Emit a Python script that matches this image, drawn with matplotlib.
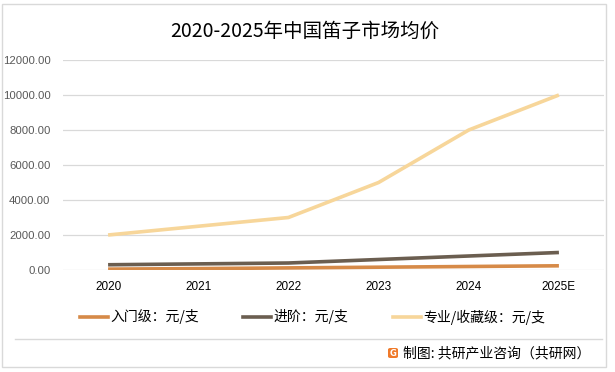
import matplotlib
matplotlib.use("Agg")
import matplotlib.pyplot as plt
from matplotlib.lines import Line2D
from matplotlib.patches import Rectangle, FancyBboxPatch

plt.rcParams['font.family'] = ['Noto Sans CJK SC', 'DejaVu Sans']

years = ["2020", "2021", "2022", "2023", "2024", "2025E"]
entry = [50, 80, 120, 160, 200, 240]
advanced = [300, 350, 400, 600, 800, 1000]
professional = [2000, 2500, 3000, 5000, 8000, 10000]
series_names = ["入门级：元/支", "进阶：元/支", "专业/收藏级：元/支"]
colors = ["#D68A48", "#6B5E50", "#F7D69A"]
yticks = [0, 2000, 4000, 6000, 8000, 10000, 12000]

W, H = 615, 372
fig = plt.figure(figsize=(W / 100, H / 100), dpi=100)

# outer border
fig.add_artist(Rectangle((2 / W, 1 - 367 / H), 604 / W, 363 / H, transform=fig.transFigure,
                         fill=False, edgecolor="#D9D9D9", linewidth=1.0))
# separator line
fig.add_artist(Line2D([15 / W, 602 / W], [1 - 339 / H, 1 - 339 / H], transform=fig.transFigure,
                      color="#D9D9D9", linewidth=1.0))

ax = fig.add_axes([63 / W, 1 - 270 / H, (604 - 63) / W, (270 - 60) / H])
x = list(range(len(years)))
for vals, c in zip([entry, advanced, professional], colors):
    ax.plot(x, vals, color=c, linewidth=2.6, solid_capstyle="butt")

ax.set_xlim(-0.5, len(years) - 0.5)
ax.set_ylim(0, 12000)
ax.set_yticks(yticks)
ax.set_yticklabels([f"{v:.2f}" for v in yticks], fontsize=8.2, color="#595959",
                   family=['Liberation Sans'])
ax.set_xticks(x)
ax.set_xticklabels(years, fontsize=8.5, color="#000000", family=['Liberation Sans'])
ax.tick_params(axis='both', length=0)
ax.tick_params(axis='x', pad=8)
ax.tick_params(axis='y', pad=9)
ax.grid(axis='y', color="#D9D9D9", linewidth=0.9)
ax.set_axisbelow(True)
for s in ax.spines.values():
    s.set_visible(False)

fig.text(305 / W, 1 - 31 / H, "2020-2025年中国笛子市场均价", ha="center", va="center",
         fontsize=14, color="#000000")

# legend
leg_x = [80, 243, 393]
for hx, c, name in zip(leg_x, colors, series_names):
    fig.add_artist(Line2D([hx / W, (hx + 28) / W], [1 - 317 / H, 1 - 317 / H],
                          transform=fig.transFigure, color=c, linewidth=2.6))
    fig.text((hx + 30) / W, 1 - 317 / H, name, ha="left", va="center", fontsize=10,
             color="#000000")

# footer logo + text
fig.add_artist(FancyBboxPatch((388 / W, 1 - 358 / H), 10 / W, 10 / H, transform=fig.transFigure,
                              boxstyle="round,pad=0,rounding_size=0.004",
                              facecolor="#F07A2A", edgecolor="none"))
fig.text(393 / W, 1 - 353 / H, "G", ha="center", va="center", fontsize=6, color="white",
         fontweight="bold", family=['DejaVu Sans'])
fig.text(403 / W, 1 - 353 / H, "制图: 共研产业咨询（共研网）", ha="left", va="center",
         fontsize=10, color="#000000")

fig.savefig("out.png", dpi=100)
